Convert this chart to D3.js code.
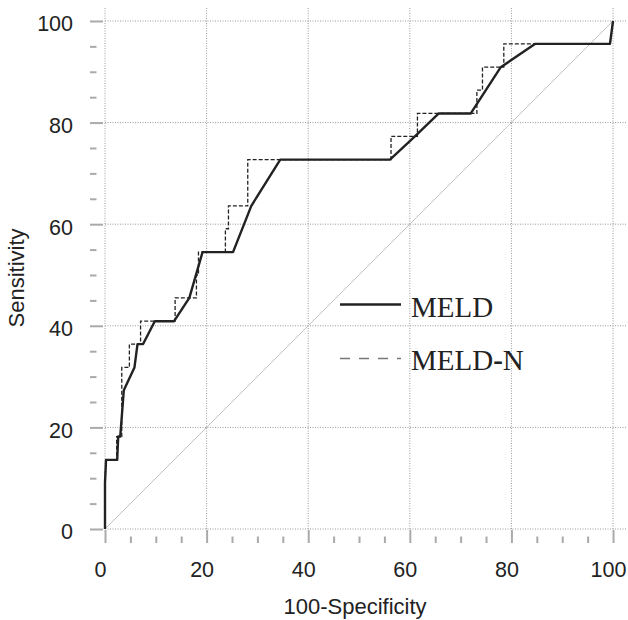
<!DOCTYPE html>
<html>
<head>
<meta charset="utf-8">
<title>ROC curves MELD / MELD-N</title>
<script src="https://d3js.org/d3.v7.min.js"></script>
<style>
body {margin:0; background:white;}
.tick text {font-family: "Liberation Sans", Arial, sans-serif; font-size:21.5px; fill:#222;}
.axis-title {font-family: "Liberation Sans", Arial, sans-serif; font-size:22px; fill:#222;}
.legend {font-family: "Liberation Serif", "Times New Roman", serif; font-size:29px; fill:#222;}
</style>
</head>
<body>
<svg width="628" height="620"></svg>

<script>
// MELD (solid): 100-specificity, sensitivity
var meldX = [0, 0, 0.2, 2.4, 2.6, 3.0, 3.7, 5.8, 6.4, 7.5, 9.8, 13.6, 16.6, 19.2, 25.2, 28.8, 34.5, 56.1, 61.0, 65.7, 72.0, 77.9, 84.7, 99.4, 100];
var meldY = [0, 9.1, 13.6, 13.6, 18.2, 18.2, 27.3, 31.8, 36.4, 36.4, 40.9, 40.9, 45.5, 54.5, 54.5, 63.6, 72.7, 72.7, 77.3, 81.8, 81.8, 90.9, 95.5, 95.5, 100];

// MELD-N (dashed)
var meldnX = [0, 0, 0.2, 2.3, 2.3, 3.3, 3.3, 4.8, 4.8, 7.0, 7.0, 13.8, 13.8, 18.0, 18.0, 18.4, 18.4, 23.7, 23.7, 24.3, 24.3, 28.1, 28.1, 56.3, 56.3, 61.5, 61.5, 73.2, 73.2, 74.3, 74.3, 78.5, 78.5, 99.4, 100];
var meldnY = [0, 9.1, 13.6, 13.6, 18.2, 18.2, 31.8, 31.8, 36.4, 36.4, 40.9, 40.9, 45.5, 45.5, 50.0, 50.0, 54.5, 54.5, 59.1, 59.1, 63.6, 63.6, 72.7, 72.7, 77.3, 77.3, 81.8, 81.8, 86.4, 86.4, 90.9, 90.9, 95.5, 95.5, 100];

var majorTicks = [0, 20, 40, 60, 80, 100];
var minorTicks = [5, 10, 15, 25, 30, 35, 45, 50, 55, 65, 70, 75, 85, 90, 95];
var legendNames = ["MELD", "MELD-N"];

var svg = d3.select("svg");
var x = d3.scaleLinear().domain([0, 102.75]).range([105, 627]);
var y = d3.scaleLinear().domain([0, 102.75]).range([529, 7]);

// dotted grid
svg.append("g").selectAll("line").data(majorTicks).enter().append("line")
  .attr("x1", function(d) { return x(d); }).attr("x2", function(d) { return x(d); })
  .attr("y1", y(0)).attr("y2", y(102.75))
  .attr("stroke", "#999").attr("stroke-width", 1).attr("stroke-dasharray", "1,1.5");
svg.append("g").selectAll("line").data(majorTicks).enter().append("line")
  .attr("y1", function(d) { return y(d); }).attr("y2", function(d) { return y(d); })
  .attr("x1", x(0)).attr("x2", x(102.75))
  .attr("stroke", "#999").attr("stroke-width", 1).attr("stroke-dasharray", "1,1.5");

// reference diagonal
svg.append("line")
  .attr("x1", x(0)).attr("y1", y(0)).attr("x2", x(100)).attr("y2", y(100))
  .attr("stroke", "#bbb").attr("stroke-width", 0.9);

// axes: ticks pointing inward from an offset baseline
var xAxis = svg.append("g").attr("transform", "translate(0,543)")
  .call(d3.axisBottom(x).tickValues(majorTicks).tickSizeInner(-13).tickSizeOuter(0).tickPadding(19));
var xMinor = svg.append("g").attr("transform", "translate(0,543)")
  .call(d3.axisBottom(x).tickValues(minorTicks).tickSizeInner(-6.5).tickSizeOuter(0).tickFormat(""));
var yAxis = svg.append("g").attr("transform", "translate(90,0)")
  .call(d3.axisLeft(y).tickValues(majorTicks).tickSizeInner(-13).tickSizeOuter(0).tickPadding(17));
var yMinor = svg.append("g").attr("transform", "translate(90,0)")
  .call(d3.axisLeft(y).tickValues(minorTicks).tickSizeInner(-6.5).tickSizeOuter(0).tickFormat(""));

[xAxis, xMinor, yAxis, yMinor].forEach(function(g) {
  g.select(".domain").remove();
  g.selectAll(".tick line").attr("stroke", "#aaa").attr("stroke-width", 2);
  g.selectAll(".tick text").attr("font-size", null).attr("font-family", null);
});
xAxis.selectAll(".tick text").attr("dx", -5);
yAxis.selectAll(".tick text").attr("dy", "0.46em");

// curves
var line = d3.line()
  .x(function(d) { return x(d[0]); })
  .y(function(d) { return y(d[1]); });

svg.append("path")
  .datum(d3.zip(meldnX, meldnY))
  .attr("d", line)
  .attr("fill", "none").attr("stroke", "#222").attr("stroke-width", 1.3)
  .attr("stroke-dasharray", "4,2");

svg.append("path")
  .datum(d3.zip(meldX, meldY))
  .attr("d", line)
  .attr("fill", "none").attr("stroke", "#222").attr("stroke-width", 2.4)
  .attr("stroke-linejoin", "round");

// axis titles
svg.append("text").attr("class", "axis-title")
  .attr("x", 355).attr("y", 614).attr("text-anchor", "middle")
  .text("100-Specificity");
svg.append("text").attr("class", "axis-title")
  .attr("transform", "translate(24,278) rotate(-90)").attr("text-anchor", "middle")
  .text("Sensitivity");

// legend
svg.append("line").attr("x1", 340).attr("x2", 401).attr("y1", 304.5).attr("y2", 304.5)
  .attr("stroke", "#222").attr("stroke-width", 2.4);
svg.append("line").attr("x1", 340).attr("x2", 401).attr("y1", 358.5).attr("y2", 358.5)
  .attr("stroke", "#777").attr("stroke-width", 1.4).attr("stroke-dasharray", "10,9");
svg.append("text").attr("class", "legend").attr("x", 411).attr("y", 316.5).text(legendNames[0]);
var t2 = svg.append("text").attr("class", "legend").attr("x", 411).attr("y", 369.5);
t2.append("tspan").text("MELD");
t2.append("tspan").attr("font-weight", "bold").text("-");
t2.append("tspan").text("N");
</script>
</body>
</html>
